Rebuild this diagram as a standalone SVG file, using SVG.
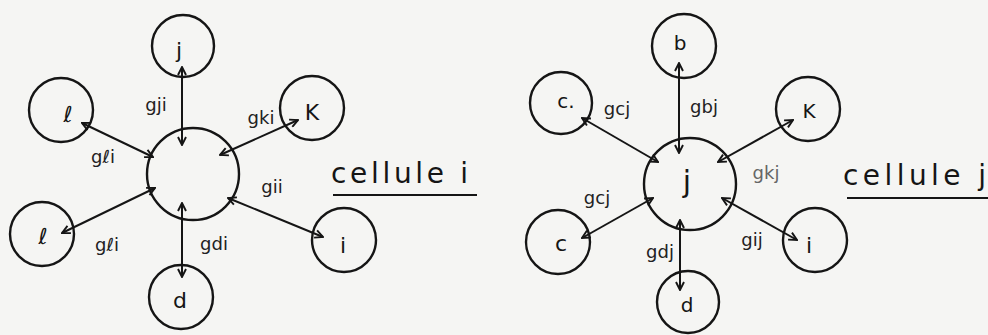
<svg xmlns="http://www.w3.org/2000/svg" width="988" height="335" viewBox="0 0 988 335">
<defs>
<style>
.cell{fill:none;stroke:#151515;stroke-width:2.4}
.con{fill:none;stroke:#151515;stroke-width:2;marker-start:url(#ah);marker-end:url(#ah)}
.nl{font-family:"DejaVu Sans",sans-serif;font-size:22px;fill:#151515;text-anchor:middle}
.lb{font-family:"DejaVu Sans",sans-serif;font-size:18px;fill:#222;text-anchor:middle}
.tt{font-family:"DejaVu Sans",sans-serif;font-size:28px;fill:#151515}
.ul{stroke:#151515;stroke-width:2}
</style>
<marker id="ah" viewBox="0 0 10 10" refX="9" refY="5" markerWidth="10" markerHeight="10" markerUnits="userSpaceOnUse" orient="auto-start-reverse">
<path d="M1,1 L9,5 L1,9" fill="none" stroke="#151515" stroke-width="1.9"/>
</marker>
</defs>
<rect width="988" height="335" fill="#f5f5f3"/>

<!-- left diagram nodes -->
<g id="cell-i"><circle class="cell" cx="193" cy="174" r="46"/></g>
<g id="node-j-left"><circle class="cell" cx="183" cy="46" r="31"/><text class="nl" x="179" y="58">j</text></g>
<g id="node-l-upper"><circle class="cell" cx="61" cy="110" r="32"/><text class="nl" x="68" y="122">ℓ</text></g>
<g id="node-k-left"><circle class="cell" cx="312" cy="108" r="32"/><text class="nl" x="312" y="120">K</text></g>
<g id="node-l-lower"><circle class="cell" cx="42" cy="234" r="32"/><text class="nl" x="43" y="244">ℓ</text></g>
<g id="node-i-left"><circle class="cell" cx="344" cy="240" r="32"/><text class="nl" x="343" y="253">i</text></g>
<g id="node-d-left"><circle class="cell" cx="181" cy="297" r="32"/><text class="nl" x="180" y="308">d</text></g>

<!-- right diagram nodes -->
<g id="cell-j"><circle class="cell" cx="690" cy="184" r="46"/><text class="nl" x="687" y="192" style="font-size:30px">j</text></g>
<g id="node-b"><circle class="cell" cx="684" cy="46" r="32"/><text class="nl" x="680" y="50" style="font-size:20px">b</text></g>
<g id="node-c-upper"><circle class="cell" cx="561" cy="103" r="31"/><text class="nl" x="566" y="108" style="font-size:20px">c.</text></g>
<g id="node-k-right"><circle class="cell" cx="808" cy="109" r="32"/><text class="nl" x="809" y="118" style="font-size:20px">K</text></g>
<g id="node-c-lower"><circle class="cell" cx="558" cy="242" r="32"/><text class="nl" x="561" y="251">c</text></g>
<g id="node-i-right"><circle class="cell" cx="815" cy="240" r="32"/><text class="nl" x="809" y="253">i</text></g>
<g id="node-d-right"><circle class="cell" cx="688" cy="302" r="31"/><text class="nl" x="687" y="312" style="font-size:20px">d</text></g>

<!-- connectors -->
<g id="connectors">
<line class="con" x1="182" y1="67" x2="182" y2="145"/>
<line class="con" x1="82" y1="123" x2="153" y2="157"/>
<line class="con" x1="298" y1="120" x2="220" y2="155"/>
<line class="con" x1="62" y1="233" x2="155" y2="188"/>
<line class="con" x1="323" y1="237" x2="228" y2="198"/>
<line class="con" x1="182" y1="277" x2="182" y2="203"/>

<line class="con" x1="679" y1="63" x2="679" y2="153"/>
<line class="con" x1="582" y1="118" x2="658" y2="162"/>
<line class="con" x1="793" y1="120" x2="718" y2="162"/>
<line class="con" x1="582" y1="238" x2="653" y2="198"/>
<line class="con" x1="797" y1="240" x2="722" y2="198"/>
<line class="con" x1="680" y1="290" x2="680" y2="220"/>
</g>

<!-- connector labels -->
<g id="labels">
<text class="lb" x="156" y="111">gji</text>
<text class="lb" x="261" y="124">gki</text>
<text class="lb" x="103" y="163">gℓi</text>
<text class="lb" x="107" y="251">gℓi</text>
<text class="lb" x="214" y="250">gdi</text>
<text class="lb" x="272" y="193">gii</text>

<text class="lb" x="617" y="115">gcj</text>
<text class="lb" x="704" y="113">gbj</text>
<text class="lb" x="766" y="179" style="fill:#666">gkj</text>
<text class="lb" x="597" y="204">gcj</text>
<text class="lb" x="660" y="258">gdj</text>
<text class="lb" x="752" y="246">gij</text>
</g>

<g id="title-i">
<text class="tt" x="331" y="183" textLength="137" lengthAdjust="spacing">cellule i</text>
<line class="ul" x1="333" y1="195" x2="477" y2="195"/>
</g>
<g id="title-j">
<text class="tt" x="843" y="185" textLength="143" lengthAdjust="spacing">cellule j</text>
<line class="ul" x1="847" y1="198" x2="988" y2="198"/>
</g>
</svg>
